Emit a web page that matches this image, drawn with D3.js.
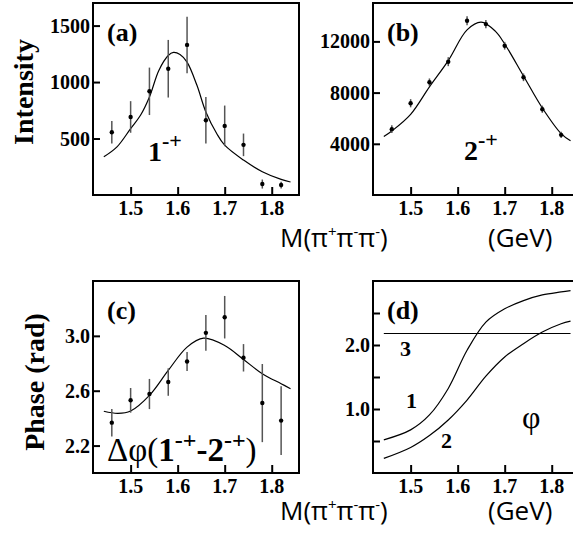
<!DOCTYPE html>
<html>
<head>
<meta charset="utf-8">
<script src="https://cdn.jsdelivr.net/npm/d3@7"></script>
<style>
  body { margin: 0; background: #fff; }
  svg { display: block; }
  .tick-label { font-family: "Liberation Serif", "DejaVu Serif", serif; font-weight: bold; font-size: 20px; }
  .axis-title { font-family: "Liberation Serif", serif; font-weight: bold; font-size: 28px; }
  .panel-tag { font-family: "Liberation Serif", serif; font-weight: bold; font-size: 26px; }
  .mass-label { font-family: "Open Sans", sans-serif; font-size: 26px; }
</style>
</head>
<body>
<div id="chart"></div>
<script>
// mass bins (GeV) shared by the three data panels
var massBins = [1.46, 1.50, 1.54, 1.58, 1.62, 1.66, 1.70, 1.74, 1.78, 1.82];

// (a) 1-+ intensity
var intensity1 = [556, 691, 918, 1118, 1329, 662, 612, 444, 97, 88];
var intensity1Err = [100, 140, 210, 255, 250, 205, 180, 100, 40, 30];
var fit1Mass = [1.443, 1.471, 1.50, 1.521, 1.54, 1.56, 1.58, 1.591, 1.605, 1.62, 1.641, 1.66, 1.683, 1.70, 1.74, 1.78, 1.82, 1.84];
var fit1Value = [338, 426, 588, 706, 868, 1103, 1235, 1262, 1244, 1176, 971, 735, 544, 441, 309, 206, 138, 115];

// (b) 2-+ intensity
var intensity2 = [5143, 7169, 8805, 10416, 13610, 13351, 11662, 9195, 6701, 4701];
var intensity2Err = [300, 320, 300, 350, 350, 320, 300, 300, 280, 250];
var fit2Mass = [1.443, 1.46, 1.50, 1.54, 1.58, 1.62, 1.65, 1.68, 1.70, 1.74, 1.78, 1.82, 1.84];
var fit2Value = [4571, 5000, 6300, 8450, 10500, 12900, 13500, 12800, 11800, 9300, 6800, 4800, 4234];

// (c) phase difference
var phaseDiff = [2.367, 2.530, 2.576, 2.663, 2.813, 3.022, 3.136, 2.840, 2.510, 2.382];
var phaseDiffErr = [0.10, 0.09, 0.11, 0.10, 0.07, 0.13, 0.155, 0.10, 0.285, 0.25];
var fitPhaseMass = [1.443, 1.473, 1.50, 1.54, 1.58, 1.62, 1.655, 1.70, 1.74, 1.78, 1.82, 1.84];
var fitPhaseValue = [2.450, 2.435, 2.452, 2.566, 2.748, 2.918, 2.983, 2.930, 2.828, 2.724, 2.651, 2.615];

// (d) model phases
var phiMass = [1.443, 1.50, 1.54, 1.58, 1.62, 1.66, 1.70, 1.74, 1.78, 1.82, 1.84];
var phi1 = [0.518, 0.674, 0.907, 1.321, 1.917, 2.357, 2.565, 2.694, 2.782, 2.829, 2.85];
var phi2 = [0.228, 0.399, 0.585, 0.829, 1.14, 1.513, 1.813, 2.021, 2.202, 2.332, 2.373];
var phi3Mass = [1.443, 1.84];
var phi3 = [2.18, 2.18];

var xTicks = [1.5, 1.6, 1.7, 1.8];
var xDomain = [1.42, 1.858];

var width = 573, height = 536;
var svg = d3.select("#chart").append("svg").attr("width", width).attr("height", height);

function panel(opt) {
  var g = svg.append("g");
  var x = d3.scaleLinear().domain(xDomain).range([opt.left, opt.left + 206]);
  var y = d3.scaleLinear().domain(opt.yDomain).range([opt.top + 192, opt.top]);

  // inward ticks
  g.append("g").attr("transform", "translate(0," + (opt.top + 192) + ")")
    .call(d3.axisTop(x).tickValues(xTicks).tickSize(8).tickFormat(""))
    .call(function (s) { s.select(".domain").remove(); s.selectAll("line").attr("stroke-width", 2); });
  g.append("g").attr("transform", "translate(" + opt.left + ",0)")
    .call(d3.axisRight(y).tickValues(opt.yTicks).tickSize(7).tickFormat(""))
    .call(function (s) { s.select(".domain").remove(); s.selectAll("line").attr("stroke-width", 2); });

  g.selectAll(".xl").data(xTicks).enter().append("text")
    .attr("class", "tick-label").attr("text-anchor", "middle")
    .attr("x", function (d) { return x(d); }).attr("y", opt.top + 212)
    .text(function (d) { return d.toFixed(1); });
  g.selectAll(".yl").data(opt.yLabels).enter().append("text")
    .attr("class", "tick-label").attr("text-anchor", "end")
    .attr("x", opt.left - 3).attr("y", function (d) { return y(d) + 7; })
    .text(opt.fmt);

  // frame
  g.append("rect").attr("x", opt.left).attr("y", opt.top).attr("width", 206).attr("height", 192)
    .attr("fill", "none").attr("stroke", "#000").attr("stroke-width", 2);

  g.append("text").attr("class", "panel-tag").attr("x", opt.left + 14).attr("y", opt.top + 38).text(opt.tag);
  return { g: g, x: x, y: y };
}

function errorPoints(p, vals, errs) {
  var d = massBins.map(function (m, i) { return { m: m, v: vals[i], e: errs[i] }; });
  p.g.selectAll(".eb").data(d).enter().append("line")
    .attr("x1", function (d) { return p.x(d.m); }).attr("x2", function (d) { return p.x(d.m); })
    .attr("y1", function (d) { return p.y(d.v - d.e); }).attr("y2", function (d) { return p.y(d.v + d.e); })
    .attr("stroke", "#555").attr("stroke-width", 1.5);
  p.g.selectAll(".pt").data(d).enter().append("circle")
    .attr("cx", function (d) { return p.x(d.m); }).attr("cy", function (d) { return p.y(d.v); })
    .attr("r", 2.2).attr("fill", "#000");
}

function curve(p, ms, vs) {
  var line = d3.line().x(function (d) { return p.x(d[0]); }).y(function (d) { return p.y(d[1]); })
    .curve(d3.curveCatmullRom);
  p.g.append("path").datum(ms.map(function (m, i) { return [m, vs[i]]; }))
    .attr("d", line).attr("fill", "none").attr("stroke", "#000").attr("stroke-width", 1.2);
}

var pa = panel({ left: 93, top: 3, yDomain: [0, 1700], yTicks: [500, 1000, 1500], yLabels: [500, 1000, 1500], fmt: function (d) { return d; }, tag: "(a)" });
curve(pa, fit1Mass, fit1Value);
errorPoints(pa, intensity1, intensity1Err);

var pb = panel({ left: 373, top: 3, yDomain: [0, 15000], yTicks: [4000, 8000, 12000], yLabels: [4000, 8000, 12000], fmt: function (d) { return d; }, tag: "(b)" });
curve(pb, fit2Mass, fit2Value);
errorPoints(pb, intensity2, intensity2Err);

var pc = panel({ left: 93, top: 281, yDomain: [2.0, 3.4], yTicks: [2.2, 2.6, 3.0], yLabels: [2.2, 2.6, 3.0], fmt: function (d) { return d.toFixed(1); }, tag: "(c)" });
curve(pc, fitPhaseMass, fitPhaseValue);
errorPoints(pc, phaseDiff, phaseDiffErr);

var pd = panel({ left: 373, top: 281, yDomain: [0, 3], yTicks: [0.5, 1.0, 1.5, 2.0, 2.5], yLabels: [1.0, 2.0], fmt: function (d) { return d.toFixed(1); }, tag: "(d)" });
curve(pd, phiMass, phi1);
curve(pd, phiMass, phi2);
curve(pd, phi3Mass, phi3);

// state labels
function stateLabel(x, y, num) {
  var t = svg.append("text").attr("x", x).attr("y", y)
    .style("font-family", "Liberation Serif, serif").style("font-weight", "bold").style("font-size", "28px");
  t.append("tspan").text(num);
  t.append("tspan").attr("dy", -13).style("font-size", "22px").text("-+");
}
stateLabel(148, 161, "1");
stateLabel(464, 160, "2");

var dphi = svg.append("text").attr("x", 107).attr("y", 461)
  .style("font-family", "Liberation Serif, serif").style("font-size", "33px");
dphi.append("tspan").text("\u0394\u03c6(");
dphi.append("tspan").style("font-weight", "bold").text("1");
dphi.append("tspan").attr("dy", -13).style("font-weight", "bold").style("font-size", "24px").text("-+");
dphi.append("tspan").attr("dy", 13).style("font-weight", "bold").text("-2");
dphi.append("tspan").attr("dy", -13).style("font-weight", "bold").style("font-size", "24px").text("-+");
dphi.append("tspan").attr("dy", 13).text(")");

svg.append("text").attr("x", 522).attr("y", 428)
  .style("font-family", "Liberation Serif, serif").style("font-size", "32px").text("\u03c6");

[["3", 400, 356], ["1", 406, 408], ["2", 441, 448]].forEach(function (d) {
  svg.append("text").attr("x", d[1]).attr("y", d[2]).attr("class", "tick-label")
    .style("font-size", "22px").text(d[0]);
});

// axis titles
svg.append("text").attr("class", "axis-title").attr("text-anchor", "middle")
  .attr("transform", "translate(33,92) rotate(-90)").text("Intensity");
svg.append("text").attr("class", "axis-title").attr("text-anchor", "middle")
  .attr("transform", "translate(44,382) rotate(-90)").text("Phase (rad)");

function massLabel(yb) {
  var t = svg.append("text").attr("class", "mass-label").attr("x", 280).attr("y", yb);
  t.append("tspan").text("M(\u03c0");
  t.append("tspan").attr("dy", -10).style("font-size", "15px").text("+");
  t.append("tspan").attr("dy", 10).text("\u03c0");
  t.append("tspan").attr("dy", -10).style("font-size", "15px").text("-");
  t.append("tspan").attr("dy", 10).text("\u03c0");
  t.append("tspan").attr("dy", -10).style("font-size", "15px").text("-");
  t.append("tspan").attr("dy", 10).text(")");
  svg.append("text").attr("class", "mass-label").attr("x", 488).attr("y", yb).text("(GeV)");
}
massLabel(247);
massLabel(520);
</script>
</body>
</html>
